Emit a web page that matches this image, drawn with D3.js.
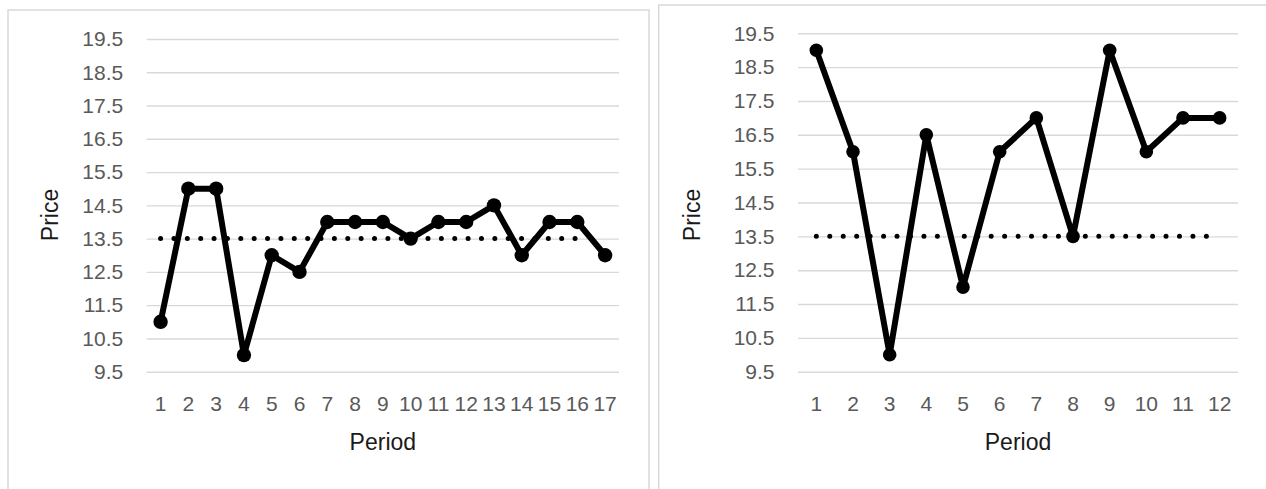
<!DOCTYPE html>
<html>
<head>
<meta charset="utf-8">
<script src="https://cdn.jsdelivr.net/npm/d3@7"></script>
<style>
  html, body { margin: 0; padding: 0; background: #fff; }
  svg { display: block; }
  text { font-family: "Liberation Sans", Arial, sans-serif; }
</style>
</head>
<body>
<svg id="chart" width="1266" height="489"></svg>
<script>
// Periods (x categories) for each session
const leftPeriods  = [1, 2, 3, 4, 5, 6, 7, 8, 9, 10, 11, 12, 13, 14, 15, 16, 17];
const rightPeriods = [1, 2, 3, 4, 5, 6, 7, 8, 9, 10, 11, 12];

// Observed prices per period
const leftPrices  = [11, 15, 15, 10, 13, 12.5, 14, 14, 14, 13.5, 14, 14, 14.5, 13, 14, 14, 13];
const rightPrices = [19, 16, 10, 16.5, 12, 16, 17, 13.5, 19, 16, 17, 17];

// Equilibrium price reference series (dotted)
const leftEquilibrium  = [13.5, 13.5, 13.5, 13.5, 13.5, 13.5, 13.5, 13.5, 13.5, 13.5, 13.5, 13.5, 13.5, 13.5, 13.5, 13.5];
const rightEquilibrium = [13.5, 13.5, 13.5, 13.5, 13.5, 13.5, 13.5, 13.5, 13.5, 13.5, 13.5, 13.5];

// Price axis ticks
const priceTicks = [9.5, 10.5, 11.5, 12.5, 13.5, 14.5, 15.5, 16.5, 17.5, 18.5, 19.5];

const svg = d3.select("#chart");
svg.append("rect").attr("width", 1266).attr("height", 489).attr("fill", "#fff");

function drawPanel(cfg) {
  const g = svg.append("g");

  // chart area border
  g.append("rect")
    .attr("x", cfg.frame[0]).attr("y", cfg.frame[1])
    .attr("width", cfg.frame[2]).attr("height", cfg.frame[3])
    .attr("fill", "none").attr("stroke", "#d9d9d9").attr("stroke-width", 1.5);

  const x = d3.scaleBand().domain(cfg.periods).range([cfg.plot.x0, cfg.plot.x1]);
  const y = d3.scaleLinear().domain([priceTicks[0], priceTicks[priceTicks.length - 1]])
    .range([cfg.plot.y1, cfg.plot.y0]);
  const cx = d => x(d) + x.bandwidth() / 2;

  // y axis with gridlines
  const yAxis = d3.axisLeft(y)
    .tickValues(priceTicks)
    .tickFormat(d3.format(".1f"))
    .tickSize(-(cfg.plot.x1 - cfg.plot.x0))
    .tickPadding(23.5);
  const yg = g.append("g").attr("transform", `translate(${cfg.plot.x0},0)`).call(yAxis);
  yg.select(".domain").remove();
  yg.selectAll(".tick line").attr("stroke", "#d9d9d9").attr("stroke-width", 1.4);
  yg.selectAll(".tick text")
    .attr("fill", "#595959").attr("font-size", 21)
    .attr("font-family", "'Liberation Sans', Arial, sans-serif");

  // x axis labels
  const xAxis = d3.axisBottom(x).tickSize(0).tickPadding(24.4);
  const xg = g.append("g").attr("transform", `translate(0,${cfg.plot.y1})`).call(xAxis);
  xg.select(".domain").remove();
  xg.selectAll(".tick text")
    .attr("fill", "#595959").attr("font-size", 21)
    .attr("font-family", "'Liberation Sans', Arial, sans-serif");

  // axis titles
  g.append("text")
    .attr("x", (cfg.plot.x0 + cfg.plot.x1) / 2).attr("y", 450)
    .attr("text-anchor", "middle").attr("font-size", 23).attr("fill", "#1a1a1a")
    .text("Period");
  g.append("text")
    .attr("transform", `translate(${cfg.titleX},215) rotate(-90)`)
    .attr("text-anchor", "middle").attr("font-size", 23).attr("fill", "#1a1a1a")
    .text("Price");

  // equilibrium dotted line
  const eqLine = d3.line().x((d, i) => cx(cfg.periods[i])).y(d => y(d));
  g.append("path")
    .datum(cfg.equilibrium)
    .attr("d", eqLine)
    .attr("fill", "none").attr("stroke", "#000").attr("stroke-width", 5)
    .attr("stroke-linecap", "round").attr("stroke-dasharray", `0 ${cfg.dotGap}`);

  // price series
  const line = d3.line().x((d, i) => cx(cfg.periods[i])).y(d => y(d));
  g.append("path")
    .datum(cfg.prices)
    .attr("d", line)
    .attr("fill", "none").attr("stroke", "#000").attr("stroke-width", 6)
    .attr("stroke-linejoin", "round");
  g.selectAll("circle.pt")
    .data(cfg.prices)
    .join("circle")
    .attr("class", "pt")
    .attr("cx", (d, i) => cx(cfg.periods[i]))
    .attr("cy", d => y(d))
    .attr("r", cfg.r)
    .attr("fill", "#000");
}

drawPanel({
  frame: [8, 10, 641, 520],
  plot: { x0: 146.7, x1: 619, y0: 39, y1: 371.7 },
  titleX: 57.5,
  periods: leftPeriods,
  prices: leftPrices,
  equilibrium: leftEquilibrium,
  dotGap: 13.37,
  r: 7.2
});

drawPanel({
  frame: [658.7, 5, 640, 520],
  plot: { x0: 798, x1: 1238, y0: 33.3, y1: 371.7 },
  titleX: 699.5,
  periods: rightPeriods,
  prices: rightPrices,
  equilibrium: rightEquilibrium,
  dotGap: 13.45,
  r: 6.8
});
</script>
</body>
</html>
